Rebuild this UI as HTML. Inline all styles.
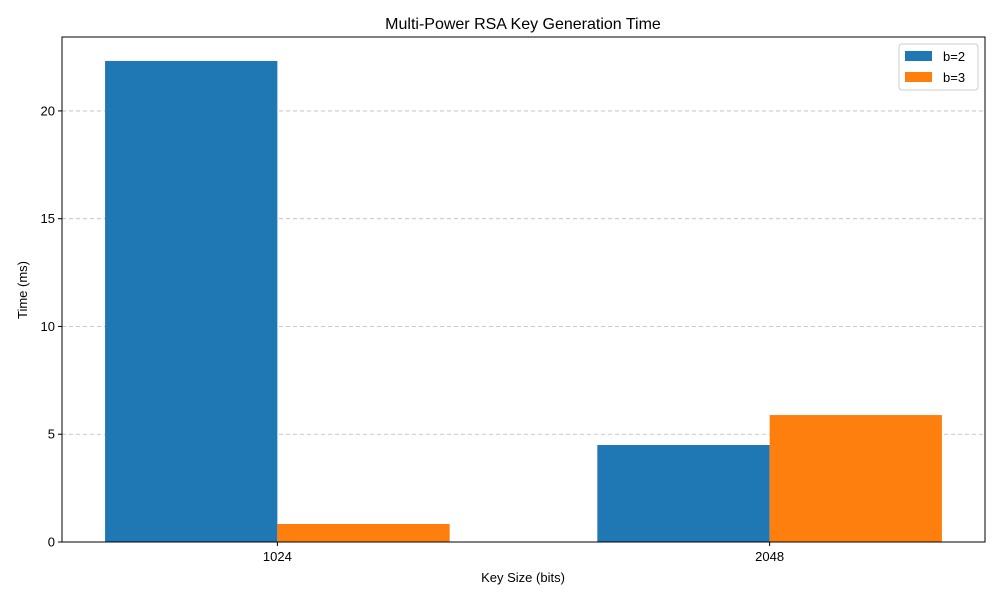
<!DOCTYPE html>
<html><head><meta charset="utf-8">
<style>
body{margin:0;background:#fff;}
svg{display:block;font-family:"Liberation Sans","DejaVu Sans",sans-serif;}
</style></head>
<body>
<svg id="chart" width="1000" height="600">
<rect x="0" y="0" width="1000" height="600" fill="#fff"/>
<text x="523" y="29" text-anchor="middle" font-size="16" fill="#000">Multi-Power RSA Key Generation Time</text>
<text x="523" y="582" text-anchor="middle" font-size="13" fill="#000">Key Size (bits)</text>
<text x="27" y="290" text-anchor="middle" font-size="13" fill="#000" transform="rotate(-90 27 290)">Time (ms)</text>
<g id="grid"></g>
<g id="bars"></g>
<g id="axes"></g>
<g id="legend">
<rect x="899" y="44" width="79" height="46" fill="#fff" stroke="#ccc" rx="3"/>
<rect x="905" y="51" width="27" height="10" fill="#1f77b4"/>
<text x="943" y="61" font-size="13">b=2</text>
<rect x="905" y="72" width="27" height="10" fill="#ff7f0e"/>
<text x="943" y="82" font-size="13">b=3</text>
</g>
</svg>
<script>
const categories = ["1024", "2048"];
const seriesB2 = [22.32, 4.50];
const seriesB3 = [0.835, 5.89];
const yTicks = [0, 5, 10, 15, 20];

const L=62,R=985,T=37,B=542;
const xMin=-0.4375,xMax=1.4375,yMin=0,yMax=23.43;
const xs=v=>L+(v-xMin)/(xMax-xMin)*(R-L);
const ys=v=>B-(v-yMin)/(yMax-yMin)*(B-T);
const NS="http://www.w3.org/2000/svg";
function mk(tag,attrs,parent){const e=document.createElementNS(NS,tag);for(const k in attrs)e.setAttribute(k,attrs[k]);document.getElementById(parent).appendChild(e);return e;}

yTicks.forEach(t=>{
  if(t>0){const g=mk('line',{x1:L,x2:R,y1:ys(t),y2:ys(t),stroke:'#bbb','stroke-dasharray':'4,3','stroke-width':0.8},'grid');
  
  }
  const tk=mk('line',{x1:L-4,x2:L,y1:ys(t),y2:ys(t),stroke:'#000'},'axes');
  
  
  const lb=mk('text',{x:L-7,y:ys(t)+4.5,'text-anchor':'end','font-size':13},'axes');
  lb.textContent=t;
  
  
});
const w=0.35;
categories.forEach((c,i)=>{
  [[seriesB2,'#1f77b4',-w,'b2'],[seriesB3,'#ff7f0e',0,'b3']].forEach(([s,col,off,nm])=>{
    const x0=xs(i+off),x1=xs(i+off+w);
    const r=mk('rect',{x:x0,y:ys(s[i]),width:x1-x0,height:ys(0)-ys(s[i]),fill:col},'bars');
    
    
  });
  const tk=mk('line',{x1:xs(i),x2:xs(i),y1:B,y2:B+4,stroke:'#000'},'axes');
  
  
  const lb=mk('text',{x:xs(i),y:B+19,'text-anchor':'middle','font-size':13},'axes');
  lb.textContent=c;
  
  
});
const fr=mk('rect',{x:L,y:T,width:R-L,height:B-T,fill:'none',stroke:'#000','stroke-width':1},'axes');


</script>
</body></html>
